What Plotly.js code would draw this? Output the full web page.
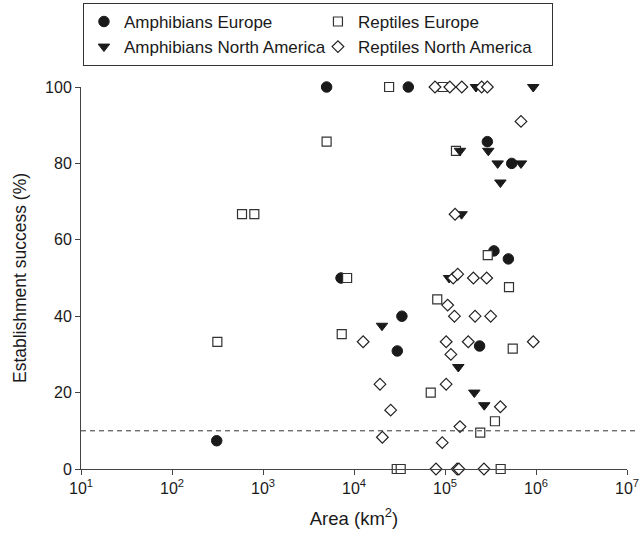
<!DOCTYPE html>
<html>
<head>
<meta charset="utf-8">
<script src="https://cdn.plot.ly/plotly-3.0.1.min.js"></script>
<style>html,body{margin:0;padding:0;background:#fff;}#chart{width:643px;height:537px;}</style>
</head>
<body>
<div id="chart"></div>
<script>
// Amphibians Europe
const amphEuX = [5000, 39500, 292000, 541000, 345000, 497000, 7200, 33600, 240000, 29900, 310];
const amphEuY = [100, 100, 85.7, 80, 57.1, 55, 50, 40, 32.2, 30.9, 7.4];
// Reptiles Europe
const reptEuX = [24300, 94400, 5000, 588, 803, 132000, 295000, 8400, 505000, 82200, 7330, 555000, 315, 69700, 354000, 244000, 29500, 32600, 409000];
const reptEuY = [100, 100, 85.7, 66.7, 66.7, 83.3, 56, 50, 47.6, 44.4, 35.3, 31.5, 33.3, 20, 12.5, 9.5, 0, 0, 0];
// Amphibians North America
const amphNaX = [219000, 933000, 146000, 299000, 379000, 684000, 406000, 152000, 111000, 20300, 140000, 210000, 270000];
const amphNaY = [100, 100, 83.3, 83.3, 80, 80, 75, 66.7, 50, 37.5, 26.7, 20, 16.7];
// Reptiles North America
const reptNaX = [77600, 113000, 153000, 253000, 292000, 684000, 129000, 123000, 138000, 205000, 287000, 107000, 127000, 214000, 318000, 12600, 103000, 180000, 933000, 116000, 19300, 103000, 406000, 25300, 146000, 20500, 93300, 79600, 136000, 142000, 268000];
const reptNaY = [100, 100, 100, 100, 100, 91, 66.7, 50, 51, 50, 50, 42.9, 40, 40, 40, 33.3, 33.3, 33.3, 33.3, 30, 22.2, 22.2, 16.3, 15.4, 11.1, 8.3, 6.9, 0, 0, 0, 0];

const threshold = 10;
const xTickVals = [10, 100, 1000, 10000, 100000, 1000000, 10000000];
const xTickText = ['10<sup>1</sup>', '10<sup>2</sup>', '10<sup>3</sup>', '10<sup>4</sup>', '10<sup>5</sup>', '10<sup>6</sup>', '10<sup>7</sup>'];
const yTickVals = [0, 20, 40, 60, 80, 100];

const ink = '#1a1a1a';
const font = 'Liberation Sans, Arial, Helvetica, sans-serif';

const traces = [
  {name: 'Amphibians Europe', x: amphEuX, y: amphEuY, type: 'scatter', mode: 'markers', cliponaxis: false,
   marker: {symbol: 'circle', size: 10.5, color: ink, line: {color: ink, width: 1}}},
  {name: 'Reptiles Europe', x: reptEuX, y: reptEuY, type: 'scatter', mode: 'markers', cliponaxis: false,
   marker: {symbol: 'square', size: 9, color: '#ffffff', line: {color: '#333', width: 1.2}}},
  {name: 'Amphibians North America', x: amphNaX, y: amphNaY, type: 'scatter', mode: 'markers', cliponaxis: false,
   marker: {symbol: 'triangle-down', size: 10, color: ink, line: {color: ink, width: 1}}},
  {name: 'Reptiles North America', x: reptNaX, y: reptNaY, type: 'scatter', mode: 'markers', cliponaxis: false,
   marker: {symbol: 'diamond', size: 9, color: '#ffffff', line: {color: '#222', width: 1.2}}}
];

const layout = {
  width: 643, height: 537,
  margin: {l: 81, r: 16, t: 87, b: 68, pad: 0, autoexpand: false},
  paper_bgcolor: '#fff', plot_bgcolor: '#fff',
  font: {family: font, size: 16, color: ink},
  showlegend: true,
  legend: {
    orientation: 'h', xref: 'container', yref: 'container',
    x: 0.129, xanchor: 'left', y: 0.9945, yanchor: 'top',
    entrywidth: 189, entrywidthmode: 'pixels',
    bordercolor: '#333', borderwidth: 1, bgcolor: '#fff',
    font: {family: font, size: 17, color: ink}, traceorder: 'normal'
  },
  xaxis: {
    type: 'log', range: [1, 7], tickvals: xTickVals, ticktext: xTickText, automargin: false,
    showline: true, linecolor: '#444', linewidth: 1, ticks: 'outside', ticklen: 5, tickcolor: '#444',
    showgrid: false, zeroline: false, tickfont: {size: 16},
    title: {text: 'Area (km<sup>2</sup>)', font: {size: 18.5}, standoff: 15}
  },
  yaxis: {
    range: [0, 100], tickvals: yTickVals, automargin: false,
    showline: true, linecolor: '#444', linewidth: 1, ticks: 'outside', ticklen: 5, tickcolor: '#444',
    showgrid: false, zeroline: false, tickfont: {size: 16},
    title: {text: 'Establishment success (%)', font: {size: 17.5}, standoff: 13}
  },
  shapes: [
    {type: 'line', xref: 'paper', yref: 'y', x0: 0, x1: 1.018, y0: threshold, y1: threshold,
     line: {color: '#333', width: 1, dash: '5px,4px'}}
  ]
};

Plotly.newPlot('chart', traces, layout, {displayModeBar: false, staticPlot: true});
</script>
</body>
</html>
